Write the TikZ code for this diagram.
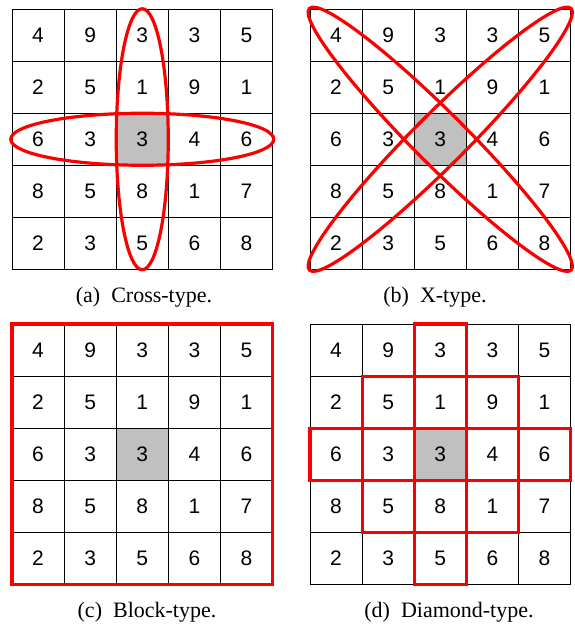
\documentclass[tikz,border=0pt]{standalone}
\usepackage{fontspec}
\setmainfont{Liberation Serif}
\newfontfamily\digitfont{Liberation Sans}
\definecolor{cellgray}{RGB}{192,192,192}
\definecolor{markred}{RGB}{250,0,0}
\newcommand\numgrid[3]{%
  \foreach \row [count=\r from 0] in {{4,9,3,3,5},{2,5,1,9,1},{6,3,3,4,6},{8,5,8,1,7},{2,3,5,6,8}} {
    \foreach \v [count=\cc from 0] in \row {
      \node[cellbox] (#1-\r-\cc) at ({#2+(\cc+0.5)*52.1},{#3+(\r+0.5)*52.1}) {\v};
    }
  }
  \node[cellbox, fill=cellgray] (#1-2-2) at ({#2+2.5*52.1},{#3+2.5*52.1}) {3};
}
\begin{document}
\begin{tikzpicture}[x=1pt, y=-1pt,
  cellbox/.style={draw=black, line width=0.8pt, minimum size=52.1pt, inner sep=0pt, outer sep=0pt,
    font=\digitfont\fontsize{21}{21}\selectfont},
  redline/.style={draw=markred, line width=3.2pt},
  capt/.style={font=\fontsize{22}{22}\selectfont, inner sep=0pt, anchor=base}]
\useasboundingbox (0,0) rectangle (575,627);
% grids
\numgrid{a}{12}{9}
\numgrid{b}{310}{9}
\numgrid{c}{12}{324}
\numgrid{d}{310}{324}
% (a) cross
\coordinate (ac) at (a-2-2.center);
\draw[redline] (ac) ellipse [x radius=26pt, y radius=130.5pt];
\draw[redline] (ac) ellipse [x radius=131.5pt, y radius=26pt];
% (b) X
\coordinate (bc) at (b-2-2.center);
\draw[redline, rotate around={45:(bc)}] (bc) ellipse [x radius=185pt, y radius=26pt];
\draw[redline, rotate around={-45:(bc)}] (bc) ellipse [x radius=185pt, y radius=26pt];
% (c) block
\draw[redline] (c-0-0.north west) rectangle (c-4-4.south east);
% (d) diamond
\foreach \r/\cc in {0/2,1/1,1/2,1/3,2/0,2/1,2/2,2/3,2/4,3/1,3/2,3/3,4/2} {
  \draw[redline] (d-\r-\cc.north west) rectangle (d-\r-\cc.south east);
}
% captions
\node[capt] (capa) at (144,302) {(a)\ \ Cross-type.};
\node[capt] (capb) at (435,302) {(b)\ \ X-type.};
\node[capt] (capc) at (147,617.5) {(c)\ \ Block-type.};
\node[capt] (capd) at (449,617.5) {(d)\ \ Diamond-type.};
\end{tikzpicture}
\end{document}
